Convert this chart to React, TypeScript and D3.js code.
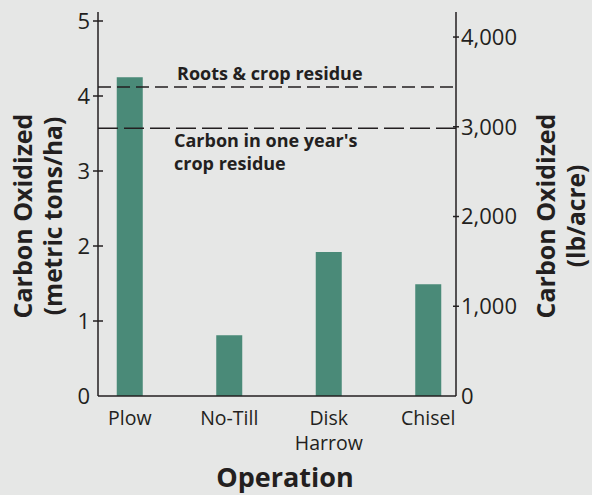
import * as d3 from 'd3';

const categories = ['Plow', 'No-Till', 'Disk Harrow', 'Chisel'];
const carbonValues = [4.25, 0.81, 1.92, 1.49];
const leftTicks = [0, 1, 2, 3, 4, 5];
const rightTicks = [0, 1000, 2000, 3000, 4000];
const refLabels = ['Roots & crop residue', "Carbon in one year's crop residue"];
const refValues = [4.12, 3.57];

const W = 592;
const H = 495;
const X0 = 98;
const X1 = 456;
const Y0 = 396;
const YTOP = 12;
const INK = '#231f20';
const BAR = '#4a8a78';
const FONT = '"Open Sans", "Noto Sans", sans-serif';

export default function App() {
  const x = d3.scalePoint<string>().domain(categories).range([80, 478]).padding(0.5);
  const yL = d3.scaleLinear().domain([0, 5.12]).range([Y0, YTOP]);
  const yR = d3.scaleLinear().domain([0, 4279]).range([Y0, YTOP]);
  const fmt = d3.format(',');
  const barW = 26;

  return (
    <svg width={W} height={H} style={{ position: 'absolute', left: 0, top: 0 }} fontFamily={FONT}>
      <rect width={W} height={H} fill="#e6e7e6" />

      {/* bars */}
      {categories.map((c, i) => (
        <rect key={c} x={x(c)! - barW / 2} y={yL(carbonValues[i])} width={barW}
          height={Y0 - yL(carbonValues[i])} fill={BAR} />
      ))}

      {/* reference lines */}
      <line x1={X0} x2={X1} y1={yL(refValues[0])} y2={yL(refValues[0])}
        stroke={INK} strokeWidth={1.3} strokeDasharray="13,6" />
      <line x1={X0} x2={X1} y1={yL(refValues[1])} y2={yL(refValues[1])}
        stroke={INK} strokeWidth={1.3} strokeDasharray="20,6" />
      <text x={177} y={yL(refValues[0]) - 7} fontSize={18} fontWeight={700} fill={INK}>{refLabels[0]}</text>
      <text x={174} y={yL(refValues[1]) + 19} fontSize={18} fontWeight={700} fill={INK}>
        <tspan x={174}>{refLabels[1].split(' crop')[0]}</tspan>
        <tspan x={174} dy={23}>{'crop' + refLabels[1].split(' crop')[1]}</tspan>
      </text>

      {/* axes */}
      <line x1={X0} x2={X0} y1={YTOP} y2={Y0} stroke={INK} strokeWidth={1.5} />
      <line x1={X1} x2={X1} y1={YTOP} y2={Y0} stroke={INK} strokeWidth={1.5} />
      <line x1={X0} x2={X1} y1={Y0} y2={Y0} stroke={INK} strokeWidth={1.5} />

      {leftTicks.map(t => (
        <g key={t} transform={`translate(${X0},${yL(t)})`}>
          {t > 0 && <line x1={-5} x2={5} stroke={INK} strokeWidth={1.5} />}
          <text x={-8} dy="0.36em" textAnchor="end" fontSize={22} fill={INK}>{t}</text>
        </g>
      ))}
      {rightTicks.map(t => (
        <g key={t} transform={`translate(${X1},${yR(t)})`}>
          {t > 0 && <line x1={-3} x2={3} stroke={INK} strokeWidth={1.5} />}
          <text x={5} dy="0.36em" textAnchor="start" fontSize={22} fill={INK}>{fmt(t)}</text>
        </g>
      ))}

      {/* category labels */}
      {categories.map(c => {
        const parts = c.split(' ');
        return (
          <text key={c} x={x(c)!} y={425} textAnchor="middle" fontSize={19.5} fill={INK}>
            {parts.map((p, j) => (
              <tspan key={p} x={x(c)!} dy={j === 0 ? 0 : 25}>{p}</tspan>
            ))}
          </text>
        );
      })}

      {/* axis titles */}
      <text x={(X0 + X1) / 2 + 8} y={487} textAnchor="middle" fontSize={27} fontWeight={700} fill={INK}>Operation</text>
      <g transform="translate(32,216) rotate(-90)">
        <text textAnchor="middle" fontSize={25} fontWeight={700} fill={INK}>Carbon Oxidized</text>
        <text y={30} textAnchor="middle" fontSize={24.5} fontWeight={700} fill={INK}>(metric tons/ha)</text>
      </g>
      <g transform="translate(555,216) rotate(-90)">
        <text textAnchor="middle" fontSize={25} fontWeight={700} fill={INK}>Carbon Oxidized</text>
        <text y={30} textAnchor="middle" fontSize={24.5} fontWeight={700} fill={INK}>(lb/acre)</text>
      </g>
    </svg>
  );
}
